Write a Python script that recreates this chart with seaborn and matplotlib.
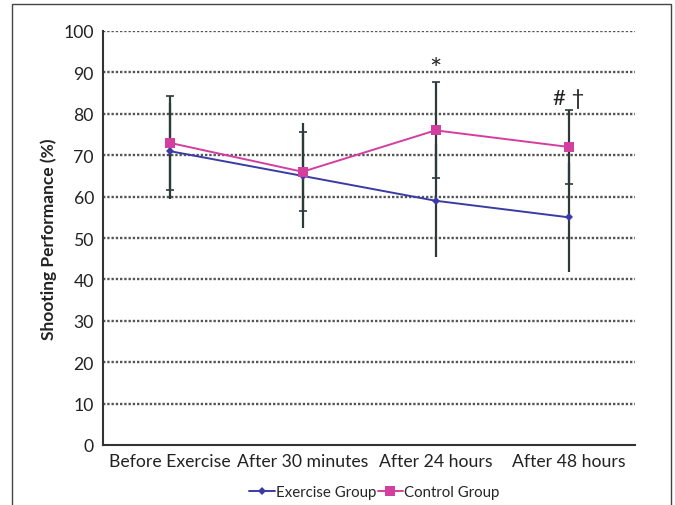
import matplotlib
matplotlib.use("Agg")
import matplotlib.pyplot as plt
import seaborn as sns
import pandas as pd
import numpy as np
from matplotlib.patches import Rectangle

categories = ["Before Exercise", "After 30 minutes", "After 24 hours", "After 48 hours"]
exercise_mean = [71, 65, 59, 55]
exercise_sd = [11.6, 12.7, 13.6, 13.2]
control_mean = [73, 66, 76, 72]
control_sd = [11.4, 9.5, 11.6, 9.0]
annotations = ["", "", "*", "# †"]
annot_y = [0, 0, 87.5, 81.5]

sns.set_theme(style="white")
plt.rcParams['font.family'] = ['Lato', 'DejaVu Sans']

df = pd.DataFrame({
    "x": list(range(4)) * 2,
    "value": exercise_mean + control_mean,
    "group": ["Exercise Group"] * 4 + ["Control Group"] * 4,
})

fig = plt.figure(figsize=(6.75, 5.06), dpi=100)
ax = fig.add_axes([103/675, 1-446/506, (635-103)/675, (446-32)/506])

# outer frame
fig.patches.append(Rectangle((12/675, -0.05), (671-12)/675, 1.05 - 4.5/506, transform=fig.transFigure,
                             fill=False, edgecolor="#444444", linewidth=1.0))

# grid lines
for v in range(10, 101, 10):
    ax.axhline(v, color="#555555", linestyle=(0, (1, 0.8)), linewidth=1.7, zorder=0.5)

ecol = "#2d3a3a"
xs = np.arange(4)
ax.errorbar(xs, exercise_mean, yerr=exercise_sd, fmt="none", ecolor=ecol, elinewidth=1.6,
            capsize=0, zorder=2)
ax.errorbar(xs, control_mean, yerr=control_sd, fmt="none", ecolor=ecol, elinewidth=1.6,
            capsize=3, capthick=1.2, zorder=2)

pal = {"Exercise Group": "#3b3ba6", "Control Group": "#d43f9f"}
sns.lineplot(data=df, x="x", y="value", hue="group", style="group",
             markers={"Exercise Group": "D", "Control Group": "s"}, dashes=False,
             palette=pal, markersize=6.5, linewidth=1.4, ax=ax, zorder=3,
             markeredgewidth=0)
for line in ax.lines:
    if line.get_marker() == "D":
        line.set_markersize(4.5)

for i, (t, yy) in enumerate(zip(annotations, annot_y)):
    if t:
        fs = 21 if t == "*" else 16
        ax.text(i, yy, t, ha="center", va="bottom", fontsize=fs, color="#222222",
                family=['Lato', 'DejaVu Sans'])

ax.set_xlim(-0.5, 3.5)
ax.set_ylim(0, 100)
ax.set_yticks(range(0, 101, 10))
ax.set_xticks(xs)
ax.set_xticklabels(categories)
ax.set_xticks([0.5, 1.5, 2.5, 3.5], minor=True)
ax.tick_params(axis="x", which="major", length=0, labelsize=12.7, pad=6, colors="#222222")
ax.tick_params(axis="x", which="minor", length=4, direction="in", color="#333333", width=1.2)
ax.tick_params(axis="y", length=5, direction="inout", width=1.2, color="#333333",
               labelsize=12.7, colors="#222222", pad=4)
ax.set_xlabel("")
ax.set_ylabel("Shooting Performance (%)", fontsize=12.5, fontweight="bold", color="#222222", labelpad=5)

for s in ["top", "right"]:
    ax.spines[s].set_visible(False)
for s in ["left", "bottom"]:
    ax.spines[s].set_color("#333333")
    ax.spines[s].set_linewidth(1.5)

handles, labels = ax.get_legend_handles_labels()
leg = ax.legend(handles, labels, loc="upper center", bbox_to_anchor=(0.51, -0.065), ncol=2,
                frameon=False, fontsize=10.8, handlelength=1.7, handletextpad=0.05,
                columnspacing=0.1)

fig.savefig("out.png", dpi=100)
